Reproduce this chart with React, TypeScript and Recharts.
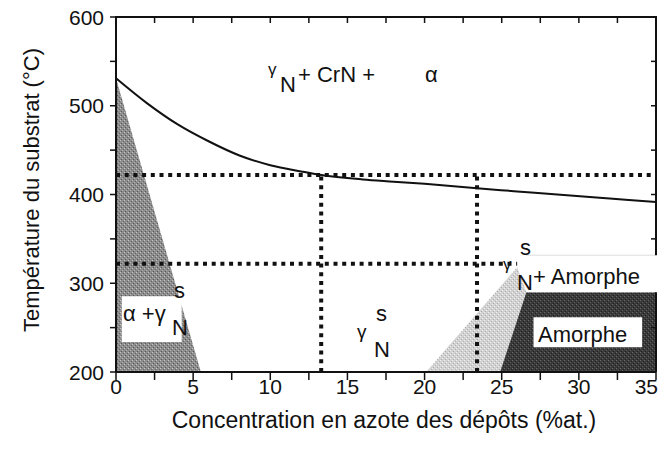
import { Area, ComposedChart, Line, ReferenceArea, ReferenceLine, XAxis, YAxis } from 'recharts';

// nitrogen content (%at.) / substrate temperature (°C)
const curveN = [0, 2, 4, 6, 8, 10, 12, 13.3, 16, 18, 20, 23.4, 26, 28.6, 32, 35];
const curveT = [531, 503, 479, 460, 444, 433, 426, 422, 417, 414.5, 412, 407, 403.5, 400, 395.5, 391.5];

// shaded domains (outline points, filled down to 200 °C)
const alphaN = [0, 5.5];
const alphaT = [531, 200];
const mixN = [20.1, 26.0, 26.6, 35];
const mixT = [200, 318, 290, 290];
const amorphN = [24.9, 26.6, 35];
const amorphT = [200, 290, 290];

// dotted guide lines
const guideT = [422, 322];
const guideN = [13.3, 23.4];
const guideEndN = 26;

const xTicks = [0, 2.5, 5, 7.5, 10, 12.5, 15, 17.5, 20, 22.5, 25, 27.5, 30, 32.5, 35];
const yTicks = [200, 250, 300, 350, 400, 450, 500, 550, 600];

// label box on the right edge hides the frame between these temperatures
const boxLowT = 290;
const boxHighT = 331.6;

const toPts = (n: number[], t: number[]) => n.map((v, i) => ({ n: v, t: t[i] }));

const font = 'Liberation Sans, Arial, sans-serif';

// plot box (matches chart margins / axis sizes) for the top & right frame
const W = 666;
const H = 451;
const left = 116;
const right = W - 10;
const top = 17;
const bottom = H - 79;
const px = (n: number) => left + (n / 35) * (right - left);
const py = (t: number) => bottom - ((t - 200) / 400) * (bottom - top);

const XTick = (props: any) => {
  const { x, y, payload } = props;
  if (payload.value % 5 !== 0) return <g />;
  const last = payload.value === 35;
  return (
    <text x={last ? x + 2 : x} y={y} dy={12} textAnchor={last ? 'end' : 'middle'} fontSize={21} fontFamily={font} fill="#111">
      {payload.value}
    </text>
  );
};

const YTick = (props: any) => {
  const { x, y, payload } = props;
  if (payload.value % 100 !== 0) return <g />;
  return (
    <text x={x} y={y} dy={7.5} textAnchor="end" fontSize={21} fontFamily={font} fill="#111">
      {payload.value}
    </text>
  );
};

export default function App() {
  const topTicks = xTicks.slice(1, -1);
  const rightTicks = yTicks.slice(1, -1).filter((v) => v < boxLowT || v > boxHighT);
  return (
    <div style={{ position: 'absolute', left: 0, top: 0, width: W, height: H, background: '#fff' }}>
      <ComposedChart width={W} height={H} margin={{ top: 17, right: 10, bottom: 0, left: 0 }}>
        <defs>
          <pattern id="grey" width="4" height="4" patternUnits="userSpaceOnUse">
            <rect width="4" height="4" fill="#8c8c8c" />
            <rect x="0" y="0" width="1" height="1" fill="#c4c4c4" />
            <rect x="2" y="2" width="1" height="1" fill="#b0b0b0" />
            <rect x="1" y="3" width="1" height="1" fill="#555" />
            <rect x="3" y="1" width="1" height="1" fill="#666" />
          </pattern>
          <pattern id="light" width="4" height="4" patternUnits="userSpaceOnUse">
            <rect width="4" height="4" fill="#d2d2d2" />
            <rect x="0" y="0" width="1" height="1" fill="#eee" />
            <rect x="2" y="2" width="1" height="1" fill="#f2f2f2" />
            <rect x="1" y="3" width="1" height="1" fill="#aaa" />
            <rect x="3" y="1" width="1" height="1" fill="#b4b4b4" />
          </pattern>
          <pattern id="dark" width="4" height="4" patternUnits="userSpaceOnUse">
            <rect width="4" height="4" fill="#3a3a3a" />
            <rect x="0" y="0" width="1" height="1" fill="#6a6a6a" />
            <rect x="2" y="2" width="1" height="1" fill="#5a5a5a" />
            <rect x="1" y="3" width="1" height="1" fill="#1e1e1e" />
            <rect x="3" y="1" width="1" height="1" fill="#222" />
          </pattern>
        </defs>

        <XAxis
          type="number"
          dataKey="n"
          domain={[0, 35]}
          ticks={xTicks}
          height={79}
          tickSize={8}
          tickMargin={2}
          tick={<XTick />}
          axisLine={{ stroke: '#111', strokeWidth: 2 }}
          tickLine={{ stroke: '#111', strokeWidth: 1.5 }}
        />
        <YAxis
          type="number"
          dataKey="t"
          domain={[200, 600]}
          ticks={yTicks}
          width={116}
          tickSize={6}
          tickMargin={6}
          tick={<YTick />}
          axisLine={{ stroke: '#111', strokeWidth: 2 }}
          tickLine={{ stroke: '#111', strokeWidth: 1.5 }}
        />

        <Area data={toPts(alphaN, alphaT)} dataKey="t" type="linear" baseValue={200} fill="url(#grey)" fillOpacity={1} stroke="none" isAnimationActive={false} />
        <Area data={toPts(mixN, mixT)} dataKey="t" type="linear" baseValue={200} fill="url(#light)" fillOpacity={1} stroke="none" isAnimationActive={false} />
        <Area data={toPts(amorphN, amorphT)} dataKey="t" type="linear" baseValue={200} fill="url(#dark)" fillOpacity={1} stroke="none" isAnimationActive={false} />

        <ReferenceArea x1={0.37} x2={4.26} y1={233.7} y2={285.3} fill="#fff" fillOpacity={1} stroke="none" />
        <ReferenceArea x1={27.06} x2={34.1} y1={228} y2={261.6} fill="#fff" fillOpacity={1} stroke="none" />
        <ReferenceArea x1={26.6} x2={35} y1={boxLowT} y2={boxHighT} fill="#fff" fillOpacity={1} stroke="none" />
        <ReferenceLine segment={[{ x: 26.6, y: boxHighT }, { x: 35, y: boxHighT }]} stroke="#bbb" strokeWidth={1} strokeDasharray="1 1" />

        <ReferenceLine segment={[{ x: 0, y: guideT[0] }, { x: 35, y: guideT[0] }]} stroke="#111" strokeWidth={4} strokeDasharray="4 4.7" />
        <ReferenceLine segment={[{ x: 0, y: guideT[1] }, { x: guideEndN, y: guideT[1] }]} stroke="#111" strokeWidth={4} strokeDasharray="4 4.7" />
        <ReferenceLine segment={[{ x: guideN[0], y: 200 }, { x: guideN[0], y: guideT[0] }]} stroke="#111" strokeWidth={4} strokeDasharray="4 4.7" />
        <ReferenceLine segment={[{ x: guideN[1], y: 200 }, { x: guideN[1], y: guideT[0] }]} stroke="#111" strokeWidth={4} strokeDasharray="4 4.7" />

        <Line data={toPts(curveN, curveT)} dataKey="t" type="monotone" stroke="#111" strokeWidth={2} dot={false} isAnimationActive={false} />
      </ComposedChart>

      <svg width={W} height={H} style={{ position: 'absolute', left: 0, top: 0, pointerEvents: 'none' }} fontFamily={font} fill="#111">
        {/* top and right frame edges with inward ticks */}
        <g stroke="#111" strokeWidth={2}>
          <line x1={left - 1} y1={top} x2={right + 1} y2={top} />
          <line x1={right} y1={top} x2={right} y2={py(boxHighT)} />
          <line x1={right} y1={py(boxLowT)} x2={right} y2={bottom} />
        </g>
        <g stroke="#111" strokeWidth={1.5}>
          {topTicks.map((v) => (
            <line key={`tx${v}`} x1={px(v)} y1={top} x2={px(v)} y2={top + 6} />
          ))}
          {rightTicks.map((v) => (
            <line key={`ty${v}`} x1={right} y1={py(v)} x2={right - 5} y2={py(v)} />
          ))}
        </g>

        <text x={268} y={75} fontSize={17}>γ</text>
        <text x={280} y={92} fontSize={22}>N</text>
        <text x={298} y={82} fontSize={22}>+ CrN +</text>
        <text x={425} y={82} fontSize={22}>α</text>

        <text x={123} y={321} fontSize={22}>α +γ</text>
        <text x={174} y={298} fontSize={22}>s</text>
        <text x={172} y={335} fontSize={22}>N</text>

        <text x={357} y={338} fontSize={19}>γ</text>
        <text x={376} y={321} fontSize={22}>s</text>
        <text x={374} y={357} fontSize={22}>N</text>

        <text x={520} y={255} fontSize={22}>s</text>
        <text x={503} y={270} fontSize={17}>γ</text>
        <text x={517} y={290} fontSize={22}>N</text>
        <text x={533} y={284} fontSize={22}>+ Amorphe</text>

        <text x={538} y={342} fontSize={22}>Amorphe</text>

        <text x={31} y={190} fontSize={22} textAnchor="middle" dominantBaseline="central" transform="rotate(-90 31 190)">
          Température du substrat (°C)
        </text>
        <text x={384} y={428} fontSize={23} textAnchor="middle">
          Concentration en azote des dépôts (%at.)
        </text>
      </svg>
    </div>
  );
}
